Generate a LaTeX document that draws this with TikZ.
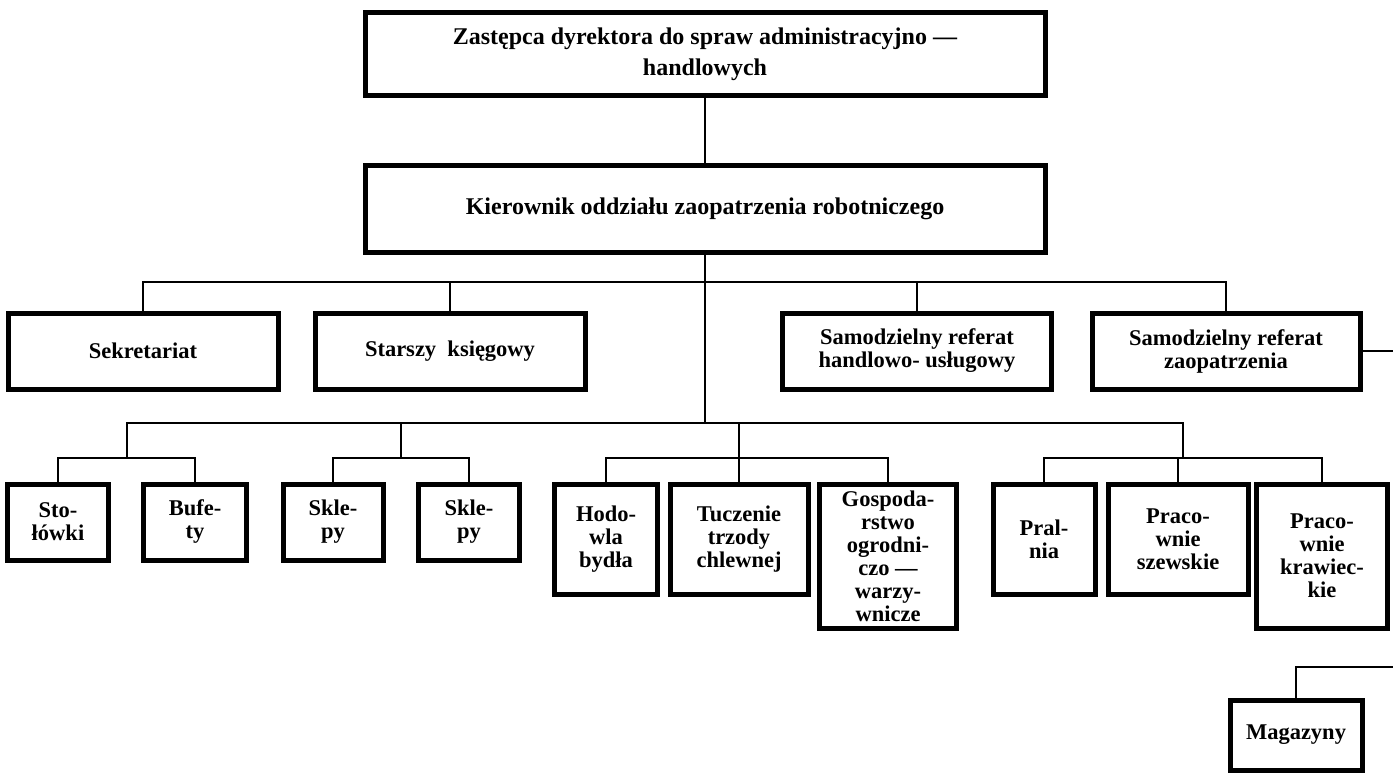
\documentclass[tikz,border=0pt]{standalone}
\usepackage{fontspec}
\setmainfont{Liberation Serif}
\begin{document}
\begin{tikzpicture}[x=1pt,y=-1pt,
  dept/.style={draw, line width=5pt, align=center, inner sep=1pt,
    font=\bfseries\fontsize{22.5}{23}\selectfont},
  head/.style={dept, minimum width=680pt, font=\bfseries\fontsize{24}{31}\selectfont},
  wire/.style={line width=2.8pt}]
  \fill[white] (0,0) rectangle (1393,776);
  \useasboundingbox (0,0) rectangle (1393,776);
  % top of the chart
  \node[head, minimum height=83pt] (zast) at (705,54) {Zastępca dyrektora do spraw administracyjno —\\handlowych};
  \node[head, minimum height=87pt] (kier) at (705,209) {Kierownik oddziału zaopatrzenia robotniczego};
  % first row
  \node[dept, minimum width=270pt, minimum height=76pt] (sekr) at (143,351) {Sekretariat};
  \node[dept, minimum width=270pt, minimum height=76pt] (ksieg) at (450,351) {Starszy\ \ księgowy};
  \node[dept, minimum width=269pt, minimum height=76pt] (handl) at (917,351) {Samodzielny referat\\handlowo- usługowy};
  \node[dept, minimum width=268pt, minimum height=76pt] (zaop) at (1226,351) {Samodzielny referat\\zaopatrzenia};
  % second row
  \node[dept, minimum width=101pt, minimum height=76pt] (stol) at (58,522) {Sto-\\łówki};
  \node[dept, minimum width=103pt, minimum height=76pt] (bufe) at (195,522) {Bufe-\\ty};
  \node[dept, minimum width=100pt, minimum height=76pt] (sklA) at (333,522) {Skle-\\py};
  \node[dept, minimum width=101pt, minimum height=76pt] (sklB) at (469,522) {Skle-\\py};
  \node[dept, minimum width=103pt, minimum height=110pt] (hodo) at (606,539) {Hodo-\\wla\\bydła};
  \node[dept, minimum width=138pt, minimum height=110pt] (tucz) at (739,539) {Tuczenie\\trzody\\chlewnej};
  \node[dept, minimum width=137pt, minimum height=144pt] (gosp) at (888,556) {Gospoda-\\rstwo\\ogrodni-\\czo —\\warzy-\\wnicze};
  \node[dept, minimum width=102pt, minimum height=110pt] (pral) at (1044,539) {Pral-\\nia};
  \node[dept, minimum width=140pt, minimum height=110pt] (szew) at (1178,539) {Praco-\\wnie\\szewskie};
  \node[dept, minimum width=131pt, minimum height=144pt] (kraw) at (1322,556) {Praco-\\wnie\\krawiec-\\kie};
  \node[dept, minimum width=132pt, minimum height=70pt] (mag) at (1296,735) {Magazyny};
  % bus points
  \coordinate (b1) at (705,282);
  \coordinate (b2) at (705,423);
  \coordinate (sa) at (127,458);
  \coordinate (sb) at (401,458);
  \coordinate (sc) at (739,458);
  \coordinate (sd) at (1183,458);
  \coordinate (edgeA) at (1393,351);
  \coordinate (edgeB) at (1393,667);
  % connectors
  \draw[wire] (zast) -- (kier);
  \draw[wire] (kier.south) -- (b2);
  \draw[wire] (sekr.north) |- (b1) -| (zaop.north);
  \draw[wire] (ksieg.north) -- (ksieg.north |- b1);
  \draw[wire] (handl.north) -- (handl.north |- b1);
  \draw[wire] (sa) |- (sd |- b2) -- (sd);
  \draw[wire] (sb) -- (sb |- b2);
  \draw[wire] (sc) -- (sc |- b2);
  \draw[wire] (stol.north) |- (sa) -| (bufe.north);
  \draw[wire] (sklA.north) |- (sb) -| (sklB.north);
  \draw[wire] (hodo.north) |- (sc) -| (gosp.north);
  \draw[wire] (tucz.north) -- (sc);
  \draw[wire] (pral.north) |- (sd) -| (kraw.north);
  \draw[wire] (szew.north) -- (szew.north |- sd);
  \draw[wire] (zaop.east) -- (edgeA);
  \draw[wire] (edgeB) -| (mag.north);
\end{tikzpicture}
\end{document}
